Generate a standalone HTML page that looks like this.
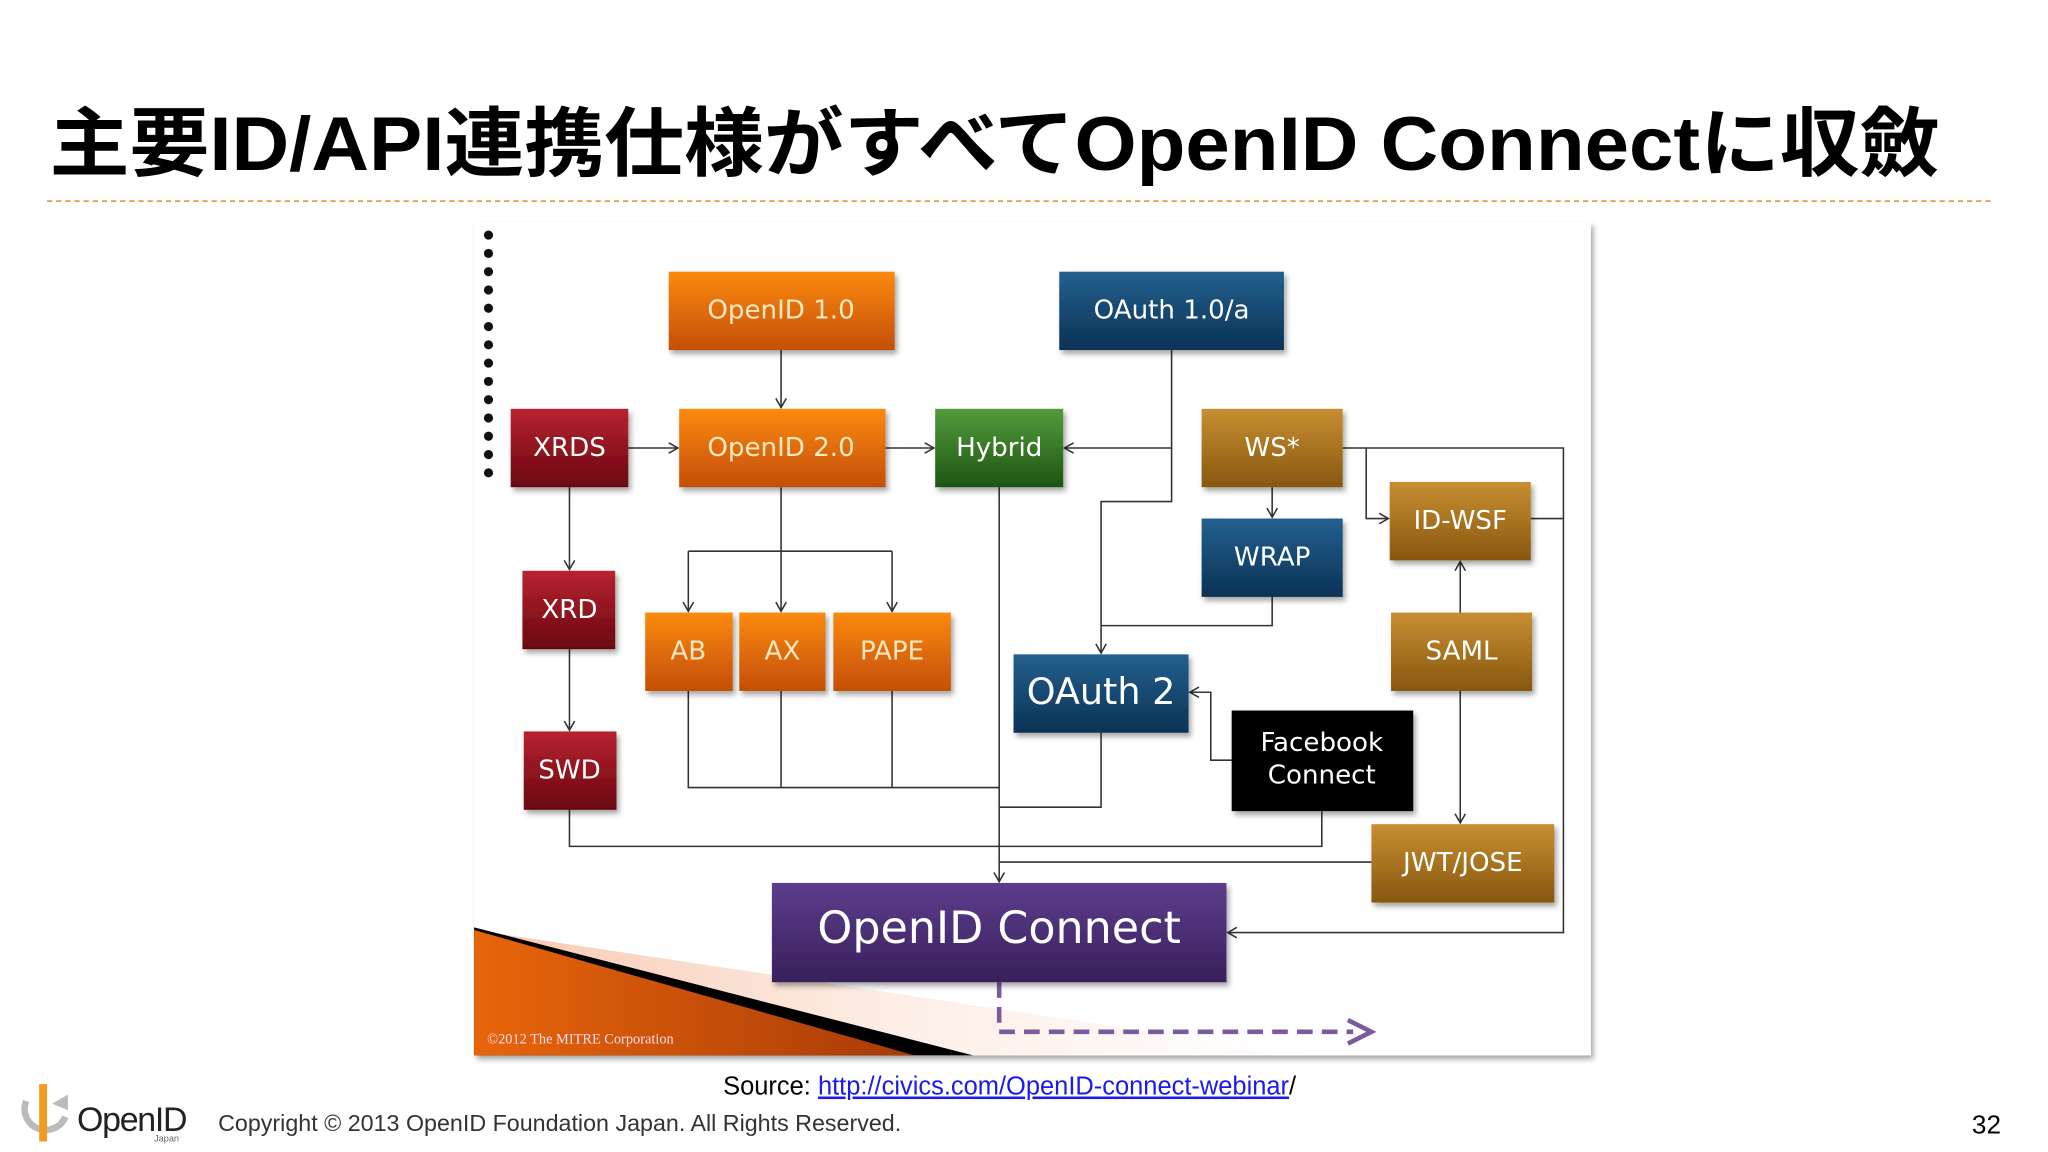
<!DOCTYPE html>
<html><head><meta charset="utf-8"><style>
html,body{margin:0;padding:0;background:#fff;}
svg{display:block;}
</style></head><body>
<svg width="2048" height="1152" viewBox="0 0 1568 882" xmlns="http://www.w3.org/2000/svg">
<defs>
<linearGradient id="or" x1="0" y1="0" x2="0" y2="1"><stop offset="0" stop-color="#fb8a0a"/><stop offset="1" stop-color="#c44e06"/></linearGradient>
<linearGradient id="rd" x1="0" y1="0" x2="0" y2="1"><stop offset="0" stop-color="#b82330"/><stop offset="1" stop-color="#6a0610"/></linearGradient>
<linearGradient id="gr" x1="0" y1="0" x2="0" y2="1"><stop offset="0" stop-color="#529c3c"/><stop offset="1" stop-color="#1c5512"/></linearGradient>
<linearGradient id="bl" x1="0" y1="0" x2="0" y2="1"><stop offset="0" stop-color="#23608e"/><stop offset="1" stop-color="#0a3256"/></linearGradient>
<linearGradient id="gd" x1="0" y1="0" x2="0" y2="1"><stop offset="0" stop-color="#c98e32"/><stop offset="1" stop-color="#87570f"/></linearGradient>
<linearGradient id="pu" x1="0" y1="0" x2="0" y2="1"><stop offset="0" stop-color="#5c3d8c"/><stop offset="1" stop-color="#38205c"/></linearGradient>
<linearGradient id="tri" x1="0" y1="0" x2="1" y2="0"><stop offset="0" stop-color="#e8650a"/><stop offset="1" stop-color="#a83a08"/></linearGradient>
<linearGradient id="pink" x1="0" y1="0" x2="1" y2="0"><stop offset="0" stop-color="#f8c8b0"/><stop offset="0.5" stop-color="#fdeee6"/><stop offset="1" stop-color="#fff"/></linearGradient>
<marker id="ah" markerWidth="10" markerHeight="10" refX="8" refY="5" orient="auto" markerUnits="userSpaceOnUse"><path d="M1,1 L8,5 L1,9" fill="none" stroke="#333" stroke-width="1.2"/></marker>
<marker id="pah" markerWidth="24" markerHeight="24" refX="6" refY="12" orient="auto" markerUnits="userSpaceOnUse"><path d="M2,3 L20,12 L2,21" fill="none" stroke="#7a5c9c" stroke-width="3.5"/></marker>
<filter id="sh" x="-10%" y="-10%" width="130%" height="130%"><feDropShadow dx="2" dy="3" stdDeviation="2" flood-opacity="0.35"/></filter>
</defs>

<text x="38" y="130" font-family="Liberation Sans,'Noto Sans CJK JP',sans-serif" font-weight="bold" font-size="58" textLength="1447" lengthAdjust="spacingAndGlyphs" fill="#000">主要ID/API連携仕様がすべてOpenID Connectに収斂</text>
<line x1="36" y1="154" x2="1527" y2="154" stroke="#e99a4a" stroke-width="1.3" stroke-dasharray="4,3"/>

<rect x="363" y="170" width="855" height="638" fill="#fff" filter="url(#sh)"/>
<polygon points="363,712 1000,808 363,808" fill="url(#pink)"/>
<polygon points="363,710 745,808 363,808" fill="#000"/>
<polygon points="363,712 700,808 363,808" fill="url(#tri)"/>
<text x="373" y="799" font-family="Liberation Serif,serif" font-size="11" fill="#fde">©2012 The MITRE Corporation</text>

<g fill="#111">
<circle cx="374" cy="180" r="3.5"/><circle cx="374" cy="194" r="3.5"/><circle cx="374" cy="208" r="3.5"/><circle cx="374" cy="222" r="3.5"/><circle cx="374" cy="236" r="3.5"/><circle cx="374" cy="250" r="3.5"/><circle cx="374" cy="264" r="3.5"/><circle cx="374" cy="278" r="3.5"/><circle cx="374" cy="292" r="3.5"/><circle cx="374" cy="306" r="3.5"/><circle cx="374" cy="320" r="3.5"/><circle cx="374" cy="334" r="3.5"/><circle cx="374" cy="348" r="3.5"/><circle cx="374" cy="362" r="3.5"/>
</g>

<g fill="none" stroke="#333" stroke-width="1.2">
<path d="M598,268 V312" marker-end="url(#ah)"/>
<path d="M481,343 H519" marker-end="url(#ah)"/>
<path d="M678,343 H715" marker-end="url(#ah)"/>
<path d="M897,268 V343 H815" marker-end="url(#ah)"/>
<path d="M897,343 V384 H843 V500" marker-end="url(#ah)"/>
<path d="M974,373 V396" marker-end="url(#ah)"/>
<path d="M1028,343 H1046 V397 H1063" marker-end="url(#ah)"/>
<path d="M1046,343 H1197 V714 H940" marker-end="url(#ah)"/>
<path d="M1172,397 H1197"/>
<path d="M974,457 V479 H843"/>
<path d="M1118,469 V430" marker-end="url(#ah)"/>
<path d="M1118,529 V630" marker-end="url(#ah)"/>
<path d="M436,373 V436" marker-end="url(#ah)"/>
<path d="M436,497 V559" marker-end="url(#ah)"/>
<path d="M598,373 V468" marker-end="url(#ah)"/>
<path d="M527,422 H683"/>
<path d="M527,422 V468" marker-end="url(#ah)"/>
<path d="M683,422 V468" marker-end="url(#ah)"/>
<path d="M527,529 V603 H765"/>
<path d="M598,529 V603"/>
<path d="M683,529 V603"/>
<path d="M765,373 V675" marker-end="url(#ah)"/>
<path d="M843,561 V618 H765"/>
<path d="M943,582 H927 V530 H911" marker-end="url(#ah)"/>
<path d="M436,620 V648 H1012 V621"/>
<path d="M1050,660 H765"/>
</g>
<path d="M765,752 V790 H1036" fill="none" stroke="#7a5c9c" stroke-width="3.5" stroke-dasharray="12,7" marker-end="url(#pah)"/>

<g filter="url(#sh)">
<rect x="512" y="208" width="173" height="60" fill="url(#or)"/>
<rect x="811" y="208" width="172" height="60" fill="url(#bl)"/>
<rect x="391" y="313" width="90" height="60" fill="url(#rd)"/>
<rect x="520" y="313" width="158" height="60" fill="url(#or)"/>
<rect x="716" y="313" width="98" height="60" fill="url(#gr)"/>
<rect x="920" y="313" width="108" height="60" fill="url(#gd)"/>
<rect x="1064" y="369" width="108" height="60" fill="url(#gd)"/>
<rect x="920" y="397" width="108" height="60" fill="url(#bl)"/>
<rect x="400" y="437" width="71" height="60" fill="url(#rd)"/>
<rect x="494" y="469" width="67" height="60" fill="url(#or)"/>
<rect x="566" y="469" width="66" height="60" fill="url(#or)"/>
<rect x="638" y="469" width="90" height="60" fill="url(#or)"/>
<rect x="1065" y="469" width="108" height="60" fill="url(#gd)"/>
<rect x="776" y="501" width="134" height="60" fill="url(#bl)"/>
<rect x="943" y="544" width="139" height="77" fill="#050505"/>
<rect x="401" y="560" width="71" height="60" fill="url(#rd)"/>
<rect x="1050" y="631" width="140" height="60" fill="url(#gd)"/>
<rect x="591" y="676" width="348" height="76" fill="url(#pu)"/>
</g>

<g font-family="'DejaVu Sans',Liberation Sans,sans-serif" fill="#fff" text-anchor="middle" font-size="20">
<text x="598" y="244" fill="#fde8c0">OpenID 1.0</text>
<text x="897" y="244">OAuth 1.0/a</text>
<text x="436" y="349">XRDS</text>
<text x="598" y="349" fill="#fde8c0">OpenID 2.0</text>
<text x="765" y="349">Hybrid</text>
<text x="974" y="349">WS*</text>
<text x="1118" y="405">ID-WSF</text>
<text x="974" y="433">WRAP</text>
<text x="436" y="473">XRD</text>
<text x="527" y="505" fill="#fde8c0">AB</text>
<text x="599" y="505" fill="#fde8c0">AX</text>
<text x="683" y="505" fill="#fde8c0">PAPE</text>
<text x="1119" y="505">SAML</text>
<text x="843" y="539" font-size="28">OAuth 2</text>
<text x="1012" y="575">Facebook</text>
<text x="1012" y="600">Connect</text>
<text x="436" y="596">SWD</text>
<text x="1120" y="667">JWT/JOSE</text>
<text x="765" y="722" font-size="34">OpenID Connect</text>
</g>

<text x="773" y="838" text-anchor="middle" font-family="Liberation Sans,sans-serif" font-size="19.5" fill="#000">Source: <tspan fill="#1a1aee" text-decoration="underline">http://civics.com/OpenID-connect-webinar</tspan>/</text>
<text x="167" y="866" font-family="Liberation Sans,sans-serif" font-size="17.5" fill="#333" textLength="523" lengthAdjust="spacingAndGlyphs">Copyright © 2013  OpenID Foundation Japan.  All Rights Reserved.</text>
<text x="1532" y="868" text-anchor="end" font-family="Liberation Sans,sans-serif" font-size="20" fill="#000">32</text>
<path d="M20,843 A16,16 0 1,0 50,855" fill="none" stroke="#bbb" stroke-width="5"/>
<rect x="30" y="830" width="6" height="44" fill="#f39a20"/>
<path d="M40,845 L52,838 L52,850 Z" fill="#bbb"/>
<text x="59" y="866" font-family="Liberation Sans,sans-serif" font-size="26" fill="#222" letter-spacing="-1">OpenID</text>
<text x="118" y="874" font-family="Liberation Sans,sans-serif" font-size="7" fill="#666">Japan</text>
</svg>
</body></html>
